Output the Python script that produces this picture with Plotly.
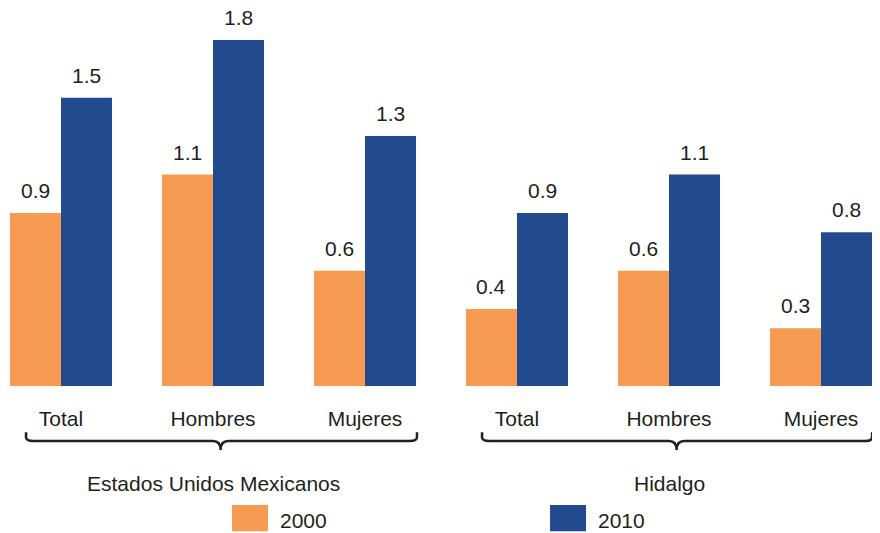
import plotly.graph_objects as go

categories = ["Total", "Hombres", "Mujeres", "Total", "Hombres", "Mujeres"]
groups = ["Estados Unidos Mexicanos", "Hidalgo"]
series_names = ["2000", "2010"]
values_2000 = [0.9, 1.1, 0.6, 0.4, 0.6, 0.3]
values_2010 = [1.5, 1.8, 1.3, 0.9, 1.1, 0.8]
colors = ["#F79B53", "#224A8F"]

FONT = "Liberation Sans, Arial, Helvetica, sans-serif"
TXT = "#231F20"

x = list(range(len(categories)))

fig = go.Figure()
for name, vals, col in zip(series_names, [values_2000, values_2010], colors):
    fig.add_trace(go.Bar(x=x, y=vals, name=name, marker=dict(color=col, line=dict(width=0)),
                         showlegend=False))

annotations = []
# value labels
for vals, off in [(values_2000, -0.1678), (values_2010, 0.1678)]:
    for xi, v in zip(x, vals):
        annotations.append(dict(x=xi + off, y=v, xref="x", yref="y", text=f"{v:.1f}",
                                showarrow=False, yanchor="middle", yshift=23, height=20,
                                font=dict(family=FONT, size=21, color=TXT)))

# group labels
for gi, g in enumerate(groups):
    annotations.append(dict(x=1 + 3 * gi, y=-0.258, xref="x", yref="paper", text=g,
                            showarrow=False, yanchor="middle",
                            font=dict(family=FONT, size=21, color=TXT)))

# legend (drawn)
shapes = []
leg_pos = [(0.2575, 0.2993, 0.3109), (0.6265, 0.6682, 0.6798)]
for (x0, x1, xt), name, col in zip(leg_pos, series_names, colors):
    shapes.append(dict(type="rect", xref="paper", yref="paper", x0=x0, x1=x1,
                       y0=-0.3165, y1=-0.386, fillcolor=col, line=dict(width=0)))
    annotations.append(dict(x=xt, y=-0.358, xref="paper", yref="paper", text=name,
                            showarrow=False, xanchor="left", yanchor="middle",
                            font=dict(family=FONT, size=21, color=TXT)))

# braces
def brace(left, right, center):
    yt, yl, yc = -0.123, -0.1463, -0.170
    r = 0.05
    ry = 0.01
    return (f"M {left},{yt} L {left},{yl+ry} Q {left},{yl} {left+r},{yl} "
            f"L {center-r},{yl} Q {center},{yl} {center},{yc} "
            f"Q {center},{yl} {center+r},{yl} L {right-r},{yl} "
            f"Q {right},{yl} {right},{yl+ry} L {right},{yt}")

for (l, rgt, c) in [(-0.23, 2.342, 1.05), (2.77, 5.336, 4.05)]:
    shapes.append(dict(type="path", xref="x", yref="paper", path=brace(l, rgt, c),
                       line=dict(color=TXT, width=2.5)))

fig.update_layout(
    width=880, height=533,
    margin=dict(l=10, r=8, t=10, b=147),
    barmode="group", bargap=0.329, bargroupgap=0,
    plot_bgcolor="white", paper_bgcolor="white",
    annotations=annotations, shapes=shapes,
    xaxis=dict(range=[-0.3355, 5.3355], tickvals=x, ticktext=categories,
               showgrid=False, zeroline=False, showline=False, ticks="",
               ticklabelstandoff=18,
               tickfont=dict(family=FONT, size=21, color=TXT)),
    yaxis=dict(range=[0, 1.956], visible=False, showgrid=False, zeroline=False),
    showlegend=False,
)

fig.write_html("out.html", config={"displayModeBar": False},
               post_script="document.body.style.margin='0';")
